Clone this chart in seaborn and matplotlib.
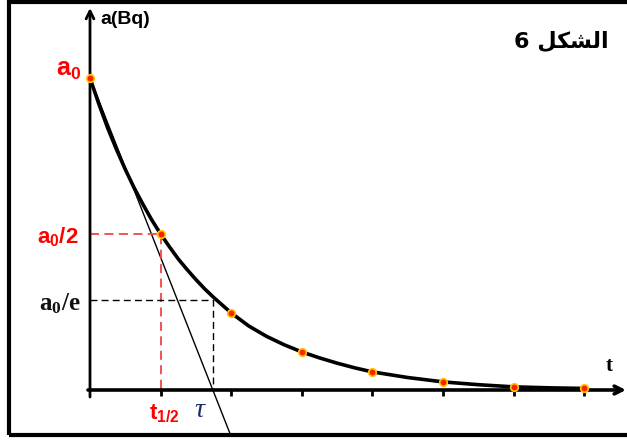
import matplotlib
matplotlib.use("Agg")
import matplotlib.pyplot as plt
import matplotlib.patches as patches
import seaborn as sns

# valeurs (t en unites de t1/2, a en fraction de a0)
point_t = [0, 1, 2, 3, 4, 5, 6, 7]
point_a = [1.0, 0.50, 0.247, 0.122, 0.058, 0.026, 0.010, 0.005]

curve_t = [0, 0.125, 0.25, 0.375, 0.5, 0.625, 0.75, 0.875, 1, 1.125, 1.25,
           1.375, 1.5, 1.625, 1.75, 1.875, 2, 2.25, 2.5, 2.75, 3, 3.25, 3.5,
           3.75, 4, 4.5, 5, 5.5, 6, 6.5, 7]
curve_a = [1.0, 0.917, 0.84, 0.771, 0.707, 0.648, 0.595, 0.545, 0.50, 0.459,
           0.42, 0.386, 0.354, 0.324, 0.297, 0.272, 0.247, 0.205, 0.172,
           0.145, 0.122, 0.103, 0.086, 0.071, 0.058, 0.040, 0.026, 0.017,
           0.010, 0.007, 0.005]

t_half = 1.0
tau = 1.74
a_e = 0.29
a_half = 0.5

sns.set_theme(style="white")
plt.rcParams["font.family"] = ["Liberation Sans", "DejaVu Sans"]
plt.rcParams["text.color"] = "black"
plt.rcParams["mathtext.fontset"] = "custom"
plt.rcParams["mathtext.rm"] = "Liberation Sans:bold"
plt.rcParams["mathtext.bf"] = "Liberation Serif:bold"
plt.rcParams["mathtext.it"] = "Liberation Serif:italic"

fig = plt.figure(figsize=(6.27, 4.41), dpi=100)
ax = fig.add_axes([0, 0, 1, 1])
px = 70.6   # pixels par unite de t
py = 312.0  # pixels pour a0
ax.set_xlim(-90 / px, 537 / px)
ax.set_ylim(-51 / py, 390 / py)
ax.axis("off")

# cadre
fig.patches.append(patches.Rectangle((9 / 627, 6 / 441), 1.2, 433 / 441,
                                     transform=fig.transFigure, fill=False,
                                     ec="black", lw=3, zorder=0))

# axes avec fleches
ax.annotate("", xy=(0, 382 / py), xytext=(0, -7 / py),
            arrowprops=dict(arrowstyle="->", lw=2.0, color="black",
                            shrinkA=0, shrinkB=0, mutation_scale=14))
ax.annotate("", xy=(536 / px, 0), xytext=(-2 / px, 0),
            arrowprops=dict(arrowstyle="->", lw=2.6, color="black",
                            shrinkA=0, shrinkB=0, mutation_scale=14))
ax.vlines(point_t[1:], -6 / py, 0, color="black", lw=2)

# tangente a l'origine
t_end = tau * (1 + 45 / py)
ax.plot([0, t_end], [1, 1 - t_end / tau], color="black", lw=1.0)

# pointilles
ax.plot([0, t_half, t_half], [a_half, a_half, 0], color="#f04545", lw=1.3,
        dashes=(5, 3))
ax.plot([0, tau, tau], [a_e, a_e, 0], color="black", lw=1.0, dashes=(5, 3))

# courbe de decroissance
sns.lineplot(x=curve_t, y=curve_a, ax=ax, color="black", lw=2.6)
sns.scatterplot(x=point_t, y=point_a, ax=ax, color="#ff2000", s=30,
                edgecolor="#ffc800", linewidth=1.2, zorder=5)

# textes
ax.annotate(r"$\mathrm{a_0}$", xy=(0, 1), xytext=(-9, 8),
            textcoords="offset pixels", ha="right", va="center",
            color="#ff0000", fontsize=18)
ax.annotate(r"$\mathrm{a_0/2}$", xy=(0, a_half), xytext=(-11, -3),
            textcoords="offset pixels", ha="right", va="center",
            color="#ff0000", fontsize=16)
ax.annotate(r"$\mathbf{a_0/e}$", xy=(0, a_e), xytext=(-9, -4),
            textcoords="offset pixels", ha="right", va="center",
            color="#111111", fontsize=18)
ax.annotate(r"$\mathrm{t_{1/2}}$", xy=(t_half, 0), xytext=(4, -24),
            textcoords="offset pixels", ha="center", va="center",
            color="#ff0000", fontsize=16)
ax.annotate(r"$\tau$", xy=(tau, 0), xytext=(-12, -20),
            textcoords="offset pixels", ha="center", va="center",
            color="#1b2a6b", fontsize=20)
ax.annotate("a(Bq)", xy=(0, 1), xytext=(10, 58), textcoords="offset pixels",
            ha="left", va="center", fontsize=14, fontweight="bold",
            color="black")
ax.annotate("t", xy=(7.35, 0), xytext=(0, 24), textcoords="offset pixels",
            ha="center", va="center", fontsize=15, fontweight="bold",
            family="Liberation Serif", color="black")

# "الشكل 6" (formes de presentation, ordre visuel)
shakl = "\uFEDE\uFEDC\uFEB8\uFEDF\uFE8D"
ax.text(561 / 627, 1 - 41 / 441, "6 " + shakl, transform=ax.transAxes,
        ha="center", va="center", fontsize=16, fontweight="bold",
        family=["DejaVu Sans"], color="black")

fig.savefig("out.png", dpi=100)
